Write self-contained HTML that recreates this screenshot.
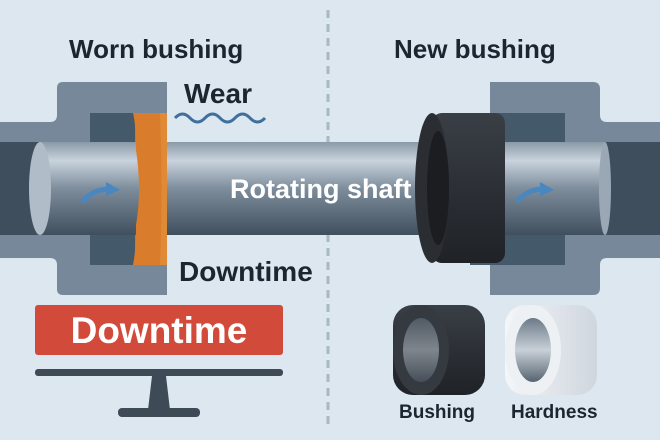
<!DOCTYPE html>
<html><head><style>
body{margin:0;width:660px;height:440px;overflow:hidden;background:#dce7f0;font-family:"Liberation Sans",sans-serif}
.t{position:absolute;font-weight:bold;white-space:nowrap;line-height:1}
</style></head><body>
<svg width="660" height="440" style="position:absolute;left:0;top:0">
<defs>
<linearGradient id="sh" x1="0" y1="0" x2="0" y2="1">
<stop offset="0" stop-color="#8a9aa8"/><stop offset="0.2" stop-color="#c9d3dc"/><stop offset="0.5" stop-color="#7d8d9c"/><stop offset="1" stop-color="#3f4f5e"/></linearGradient>
<linearGradient id="bk" x1="0" y1="0" x2="0" y2="1">
<stop offset="0" stop-color="#3a3f46"/><stop offset="0.5" stop-color="#2c3036"/><stop offset="1" stop-color="#1f2226"/></linearGradient>
<linearGradient id="wh" x1="0" y1="0" x2="1" y2="0">
<stop offset="0" stop-color="#f4f6f8"/><stop offset="1" stop-color="#cfd6de"/></linearGradient>
<linearGradient id="inn" x1="0" y1="0" x2="0" y2="1">
<stop offset="0" stop-color="#6b7a88"/><stop offset="0.5" stop-color="#c8d0d8"/><stop offset="1" stop-color="#566470"/></linearGradient>
</defs>
<line x1="328" y1="10" x2="328" y2="425" stroke="#a9b8c5" stroke-width="3" stroke-dasharray="8,6"/>
<path d="M57 88 Q57 82 63 82 L167 82 L167 295 L63 295 Q57 295 57 289 L57 265 Q57 258 50 258 L0 258 L0 122 L50 122 Q57 122 57 115 Z" fill="#76889a"/>
<rect x="90" y="113" width="45" height="152" fill="#44596a"/>
<rect x="0" y="142" width="40" height="93" fill="#3e4e5c"/>
<path d="M490 82 L593 82 Q600 82 600 89 L600 115 Q600 122 607 122 L660 122 L660 258 L607 258 Q600 258 600 265 L600 288 Q600 295 593 295 L490 295 Z" fill="#76889a"/>
<rect x="470" y="113" width="95" height="152" fill="#44596a"/>
<rect x="600" y="142" width="60" height="93" fill="#3e4e5c"/>
<rect x="40" y="142" width="565" height="93" fill="url(#sh)"/>
<ellipse cx="40" cy="188.5" rx="11" ry="46.5" fill="#b0bcc7"/>
<ellipse cx="605" cy="188.5" rx="6" ry="46.5" fill="#9aa8b5"/>
<path d="M133 113 L167 113 L167 265 L133 265 Q136 250 136 225 Q142 190 136 150 Q136 125 133 113 Z" fill="#d97c2b"/>
<path d="M160 113 L167 113 L167 265 L160 265 Q163 190 160 113Z" fill="#e08a36"/>
<rect x="432" y="113" width="73" height="150" rx="10" fill="url(#bk)"/>
<ellipse cx="432" cy="188" rx="17" ry="75" fill="#2a2e33"/>
<ellipse cx="438" cy="188" rx="11" ry="57" fill="#1b1d20"/>
<path d="M82 202 Q92 190 108 189" stroke="#4a86bf" stroke-width="5" fill="none"/><path d="M106 182 L120 190 L106 196Z" fill="#4a86bf"/>
<path d="M517 202 Q526 190 542 189" stroke="#4a86bf" stroke-width="5" fill="none"/><path d="M540 182 L554 190 L540 196Z" fill="#4a86bf"/>
<path d="M175 118 q7.5 -8 15 0 t15 0 t15 0 t15 0 t15 0 t15 0" stroke="#3f6f9c" stroke-width="3" fill="none"/>
<rect x="35" y="305" width="248" height="50" rx="3" fill="#d24a39"/>
<rect x="35" y="369" width="248" height="7" rx="3" fill="#3e4a56"/>
<path d="M152 376 L166 376 L170 410 L148 410Z" fill="#3e4a56"/>
<rect x="118" y="408" width="82" height="9" rx="4" fill="#3e4a56"/>
<rect x="393" y="305" width="92" height="90" rx="20" fill="url(#bk)"/>
<ellipse cx="421" cy="350" rx="28" ry="45" fill="#353a41"/>
<ellipse cx="421" cy="350" rx="18" ry="32" fill="url(#inn)" opacity="0.5"/>
<rect x="505" y="305" width="92" height="90" rx="20" fill="url(#wh)"/>
<ellipse cx="533" cy="350" rx="28" ry="45" fill="#eef1f4"/>
<ellipse cx="533" cy="350" rx="18" ry="32" fill="url(#inn)"/>
</svg>
<div class="t" style="left:69px;top:36px;font-size:26px;color:#1c2530">Worn bushing</div>
<div class="t" style="left:394px;top:36px;font-size:26px;color:#1c2530">New bushing</div>
<div class="t" style="left:184px;top:80px;font-size:28px;color:#1c2530">Wear</div>
<div class="t" style="left:230px;top:176px;font-size:27px;color:#fff">Rotating shaft</div>
<div class="t" style="left:179px;top:258px;font-size:28px;color:#1c2530">Downtime</div>
<div class="t" style="left:35px;top:312px;width:248px;text-align:center;font-size:37px;color:#fff">Downtime</div>
<div class="t" style="left:399px;top:403px;font-size:19px;color:#1c2530">Bushing</div>
<div class="t" style="left:511px;top:403px;font-size:19px;color:#1c2530">Hardness</div>
</body></html>
